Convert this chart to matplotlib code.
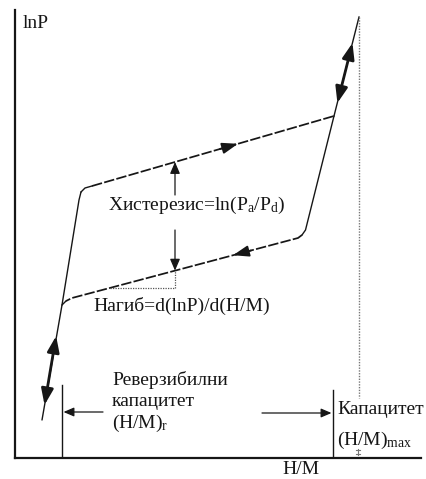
import numpy as np
import matplotlib
matplotlib.use("Agg")
import matplotlib.pyplot as plt

plt.rcParams['font.family'] = ['Liberation Serif', 'DejaVu Serif']
plt.rcParams['mathtext.fontset'] = 'custom'
plt.rcParams['mathtext.rm'] = 'Liberation Serif'
plt.rcParams['mathtext.it'] = 'Liberation Serif'

# Schematic isotherm (H/M on x, lnP on y), arbitrary units
# absorption: steep rise, knee, plateau, steep rise to saturation
abs_hm = [27, 47, 64, 66, 70, 77, 319, 344]
abs_lnp = [38, 153, 258, 266, 270, 272, 342, 441]
# desorption: steep fall, knee, lower plateau, steep fall
des_hm = [344, 319, 290.5, 287, 283, 57, 51, 47, 27]
des_lnp = [441, 342, 228, 223, 220, 160, 157, 153, 38]

hm_rev = 47       # reversible capacity (H/M)r
hm_max = 318      # capacity (H/M)max
hm_sat = 344      # saturation limit (dotted)
hm_slope = 160    # where hysteresis / slope is marked

ink = '#161616'

fig = plt.figure(figsize=(4.27, 4.79), dpi=100)
ax = fig.add_axes([15 / 427, 21 / 479, 406 / 427, 448 / 479])
ax.set_xlim(0, 406)
ax.set_ylim(0, 448)
for s in ('top', 'right'):
    ax.spines[s].set_visible(False)
for s in ('left', 'bottom'):
    ax.spines[s].set_linewidth(1.6)
    ax.spines[s].set_color(ink)
ax.set_xticks([])
ax.set_yticks([])

# steep (solid) parts
ax.plot(abs_hm[:4], abs_lnp[:4], color=ink, lw=1.0, solid_capstyle='round')
ax.plot(abs_hm[3:6], abs_lnp[3:6], color=ink, lw=1.0)
ax.plot(abs_hm[6:], abs_lnp[6:], color=ink, lw=1.0)
ax.plot(des_hm[1:4], des_lnp[1:4], color=ink, lw=1.0)
# plateaus (dashed)
dash = (0, (6, 1.3))
ax.plot(abs_hm[5:7], abs_lnp[5:7], color=ink, lw=1.25, ls=dash)
ax.plot(des_hm[3:7], des_lnp[3:7], color=ink, lw=1.25, ls=dash)
ax.plot(des_hm[6:8], des_lnp[6:8], color=ink, lw=1.0)


def on_curve(x, xs, ys):
    order = np.argsort(xs)
    return float(np.interp(x, np.asarray(xs)[order], np.asarray(ys)[order]))


def arrow(tail, tip, lw=1.0, style='-|>,head_length=0.8,head_width=0.28',
          scale=12):
    ax.annotate('', xy=tip, xytext=tail,
                arrowprops=dict(arrowstyle=style, color=ink, lw=lw,
                                mutation_scale=scale, shrinkA=0, shrinkB=0))


# direction arrows on plateaus
up_plateau = (abs_hm[5:7], abs_lnp[5:7])
lo_plateau = (des_hm[4:6], des_lnp[4:6])
arrow((205, on_curve(205, *up_plateau)), (223, on_curve(223, *up_plateau)),
      lw=1.3)
arrow((236, on_curve(236, *lo_plateau)), (218, on_curve(218, *lo_plateau)),
      lw=1.3)

# bold double arrows on steep branches
dbl = '<|-|>,head_length=0.8,head_width=0.3'
left_steep = ([abs_lnp[0], abs_lnp[2]], [abs_hm[0], abs_hm[2]])
yb, yt = 53, 122
arrow((np.interp(yb, *left_steep), yb), (np.interp(yt, *left_steep), yt),
      lw=2.0, style=dbl, scale=12)
right_steep = ([des_lnp[2], des_lnp[0]], [des_hm[2], des_hm[0]])
yb, yt = 355, 415
arrow((np.interp(yb, *right_steep), yb), (np.interp(yt, *right_steep), yt),
      lw=2.0, style=dbl, scale=12)

# hysteresis marker
y_up = on_curve(hm_slope, *up_plateau)
y_lo = on_curve(hm_slope, *lo_plateau)
small = '-|>,head_length=0.7,head_width=0.3'
arrow((hm_slope, 263), (hm_slope, y_up), lw=0.9, style=small, scale=10)
arrow((hm_slope, 228), (hm_slope, y_lo), lw=0.9, style=small, scale=10)

# slope triangle (dotted)
y_tri = 170
x_tri = on_curve(y_tri, lo_plateau[1], lo_plateau[0])
ax.plot([x_tri, hm_slope, hm_slope], [y_tri, y_tri, y_lo],
        color='#555555', lw=0.9, ls=(0, (1, 1)))

# capacity markers
ax.plot([hm_rev, hm_rev], [0, 73], color=ink, lw=1.0)
ax.plot([hm_max, hm_max], [0, 68], color=ink, lw=1.0)
arrow((88, 46), (hm_rev + 1.5, 46), lw=0.9, style=small, scale=9)
arrow((247, 45), (hm_max - 1.5, 45), lw=0.9, style=small, scale=9)

# saturation limit
ax.plot([hm_sat, hm_sat], [441, 60], color='#777777', lw=1.0, ls=(0, (1, 1)))
ax.plot([hm_sat - 1, hm_sat - 1], [3, 9], color='#777777', lw=0.8)
ax.plot([hm_sat - 3, hm_sat + 1], [8, 8], color='#777777', lw=0.8)
ax.plot([hm_sat - 3, hm_sat + 1], [4, 4], color='#777777', lw=0.8)

fs = 14
ax.text(8, 434, 'lnP', fontsize=fs, color=ink, va='center', ha='left')
ax.text(93, 253, r'Хистерезис=ln(P$_\mathrm{a}$/P$_\mathrm{d}$)', fontsize=fs,
        color=ink, va='center', ha='left')
ax.text(78, 152, 'Нагиб=d(lnP)/d(H/M)', fontsize=fs, color=ink,
        va='center', ha='left')
ax.text(97, 78, 'Реверзибилни', fontsize=fs, color=ink, va='center', ha='left')
ax.text(97, 56, 'капацитет', fontsize=fs, color=ink, va='center', ha='left')
ax.text(97, 35, r'(H/M)$_\mathrm{r}$', fontsize=fs, color=ink,
        va='center', ha='left')
ax.text(322, 48, 'Капацитет', fontsize=fs, color=ink, va='center', ha='left')
ax.text(322, 18, r'(H/M)$_\mathrm{max}$', fontsize=fs, color=ink,
        va='center', ha='left')
ax.text(267, -12, 'H/M', fontsize=fs, color=ink, va='center', ha='left',
        clip_on=False)

fig.savefig('out.png', dpi=100)
